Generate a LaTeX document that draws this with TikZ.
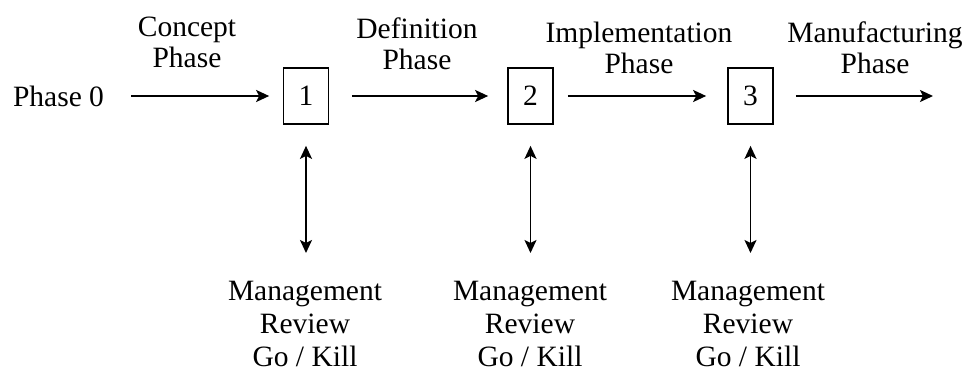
\documentclass[tikz,border=0pt]{standalone}
\usepackage{fontspec}
\setmainfont{Liberation Serif}
\usetikzlibrary{arrows.meta}
\begin{document}
\begin{tikzpicture}[x=1pt,y=-1pt,
  label/.style={font=\fontsize{29.5}{31}\selectfont, inner sep=0pt, align=center, anchor=north},
  review/.style={font=\fontsize{29.5}{33}\selectfont, inner sep=0pt, align=center, anchor=north},
  gate/.style={draw, line width=1.7pt, minimum width=45pt, minimum height=56pt,
               inner sep=0pt, font=\fontsize{29.5}{31}\selectfont},
  flow/.style={line width=1.9pt, -{Stealth[length=13pt,width=12pt,inset=3pt]}},
  link/.style={line width=1.9pt, {Stealth[length=13pt,width=12pt,inset=3pt]}-{Stealth[length=13pt,width=12pt,inset=3pt]}}]
\useasboundingbox (0,0) rectangle (971,372);

% start label
\node[inner sep=0pt, anchor=base, font=\fontsize{29.5}{31}\selectfont] (p0) at (58.5,106) {Phase 0};

% review gates
\node[gate] (b1) at (306,96) {1};
\node[gate] (b2) at (530.5,96) {2};
\node[gate] (b3) at (750.5,96) {3};
\coordinate (end) at (933,96);

% phase names above the arrows
\node[label] (l1) at (187,17) {Concept\\Phase};
\node[label] (l2) at (417,18) {Definition\\Phase};
\node[label] (l3) at (639,22) {Implementation\\Phase};
\node[label] (l4) at (875,22) {Manufacturing\\Phase};

% management reviews below the gates
\node[review] (m1) at (305,281) {Management\\Review\\Go / Kill};
\node[review] (m2) at (530,281) {Management\\Review\\Go / Kill};
\node[review] (m3) at (748,281) {Management\\Review\\Go / Kill};

% phase flow
\draw[flow, shorten <=27pt, shorten >=13.5pt] (p0.east |- b1.west) -- (b1.west);
\draw[flow, shorten <=22.5pt, shorten >=19pt] (b1.east) -- (b2.west);
\draw[flow, shorten <=14pt, shorten >=21pt] (b2.east) -- (b3.west);
\draw[flow, shorten <=22pt] (b3.east) -- (end);

% review links
\draw[link, shorten <=21pt, shorten >=28pt] (b1.south) -- (b1.south |- m1.north);
\draw[link, shorten <=21pt, shorten >=28pt] (b2.south) -- (b2.south |- m2.north);
\draw[link, shorten <=21pt, shorten >=28pt] (b3.south) -- (b3.south |- m3.north);
\end{tikzpicture}
\end{document}
